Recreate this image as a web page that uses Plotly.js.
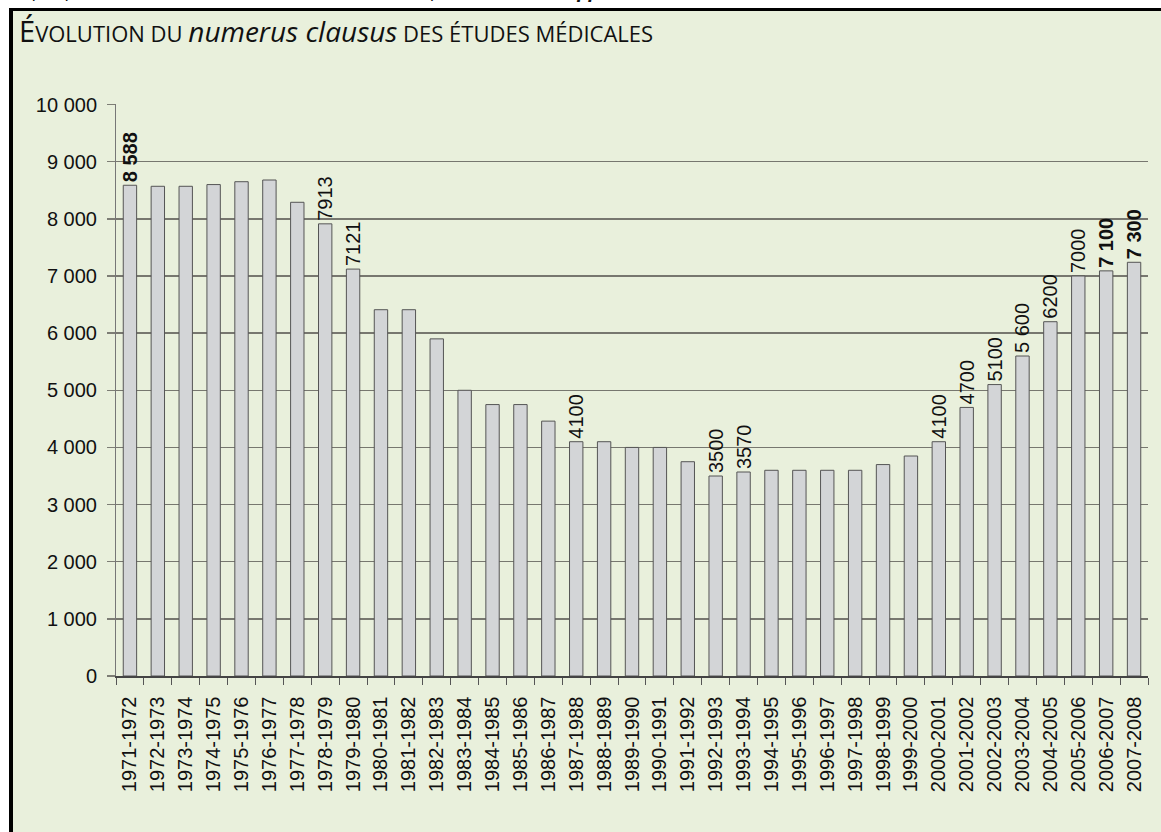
<!DOCTYPE html>
<html>
<head>
<meta charset="utf-8">
<script src="https://cdn.plot.ly/plotly-3.0.1.min.js"></script>
<style>
  html, body { margin:0; padding:0; background:#ffffff; width:1161px; height:832px; overflow:hidden; }
  #frame { position:absolute; left:9px; top:8px; right:0; bottom:0; background:#E9F0DC; border-left:4px solid #000; border-top:3px solid #000; }
  #chart { position:absolute; left:0; top:0; width:1161px; height:832px; }
</style>
</head>
<body>
<div id="frame"></div>
<div id="chart"></div>
<script>
// ---- data ----
const categories = [
  "1971-1972","1972-1973","1973-1974","1974-1975","1975-1976","1976-1977","1977-1978",
  "1978-1979","1979-1980","1980-1981","1981-1982","1982-1983","1983-1984","1984-1985",
  "1985-1986","1986-1987","1987-1988","1988-1989","1989-1990","1990-1991","1991-1992",
  "1992-1993","1993-1994","1994-1995","1995-1996","1996-1997","1997-1998","1998-1999",
  "1999-2000","2000-2001","2001-2002","2002-2003","2003-2004","2004-2005","2005-2006",
  "2006-2007","2007-2008"
];
const values = [
  8588, 8570, 8570, 8600, 8650, 8680, 8290,
  7913, 7121, 6410, 6410, 5900, 5000, 4750,
  4750, 4460, 4100, 4100, 4000, 4000, 3750,
  3500, 3570, 3600, 3600, 3600, 3600, 3700,
  3850, 4100, 4700, 5100, 5600, 6200, 7000,
  7090, 7240
];
const valueLabels = [
  "8 588", "", "", "", "", "", "",
  "7913", "7121", "", "", "", "", "",
  "", "", "4100", "", "", "", "",
  "3500", "3570", "", "", "", "", "",
  "", "4100", "4700", "5100", "5 600", "6200", "7000",
  "7 100", "7 300"
];
const boldLabelIndex = [0, 35, 36];
const yTickValues = [0,1000,2000,3000,4000,5000,6000,7000,8000,9000,10000];
const yTickLabels = ["0","1 000","2 000","3 000","4 000","5 000","6 000","7 000","8 000","9 000","10 000"];
const titleParts = { initial: "É", rest: "VOLUTION DU ", italic: "numerus clausus", tail: " DES ÉTUDES MÉDICALES" };
const sourceLine = "Graphique 1 (source : ministère de la Santé et des Sports, ONDPS, <b>Rapport 2006-2007</b>, tome 1)";

// ---- chart ----
const W = 1161, H = 832;
const M = { l:116, r:13, t:104, b:156 };
const plotW = W - M.l - M.r, plotH = H - M.t - M.b;
const px = X => (X - M.l) / plotW;
const py = Y => (H - M.b - Y) / plotH;

const barText = valueLabels.map((t, i) => boldLabelIndex.includes(i) && t ? "<b>" + t + "</b>" : t);

const sans = "Liberation Sans, Arial, Helvetica, sans-serif";

const trace = {
  type: "bar",
  x: categories,
  y: values,
  text: barText,
  textposition: "outside",
  textangle: -90,
  constraintext: "none",
  cliponaxis: false,
  textfont: { family: sans, size: 20, color: "#111" },
  marker: { color: "#D3D5D7", line: { color: "#555", width: 1 } },
  hoverinfo: "skip"
};

const title = "<span style='font-size:29px'>" + titleParts.initial + "</span>" + titleParts.rest +
  "<span style='font-size:28px'><i>" + titleParts.italic + "</i></span>" + titleParts.tail;

const layout = {
  width: W, height: H,
  margin: M,
  paper_bgcolor: "rgba(0,0,0,0)",
  plot_bgcolor: "rgba(0,0,0,0)",
  showlegend: false,
  bargap: 0.52,
  title: {
    text: title,
    font: { family: "Open Sans, Noto Sans, sans-serif", size: 22, color: "#111", weight: 500 },
    xref: "container", yref: "container",
    x: 19 / W, xanchor: "left",
    y: 1 - 42 / H, yanchor: "bottom"
  },
  xaxis: {
    type: "category",
    tickangle: -90,
    ticks: "outside", ticklen: 7, tickcolor: "#555", tickwidth: 1,
    tickson: "boundaries",
    ticklabelstandoff: 11,
    showline: true, linecolor: "#444", linewidth: 1.5,
    showgrid: false, zeroline: false,
    tickfont: { family: sans, size: 20, color: "#111" },
    automargin: false
  },
  yaxis: {
    range: [0, 10010],
    tickvals: yTickValues, ticktext: yTickLabels,
    ticks: "outside", ticklen: 8, tickcolor: "#7d7d75", tickwidth: 1.5,
    ticklabelstandoff: 6,
    showline: true, linecolor: "#777", linewidth: 1,
    showgrid: true, gridcolor: "#77776f", gridwidth: 1.5,
    zeroline: false,
    tickfont: { family: sans, size: 20, color: "#111" },
    automargin: false
  },
  annotations: [{
    text: "<i>" + sourceLine + "</i>",
    xref: "paper", yref: "paper",
    x: px(0), xanchor: "left",
    y: py(5), yanchor: "bottom",
    showarrow: false,
    font: { family: "Open Sans, Noto Sans, sans-serif", size: 19, color: "#111" }
  }]
};

Plotly.newPlot("chart", [trace], layout, { staticPlot: true, displayModeBar: false });
</script>
</body>
</html>
